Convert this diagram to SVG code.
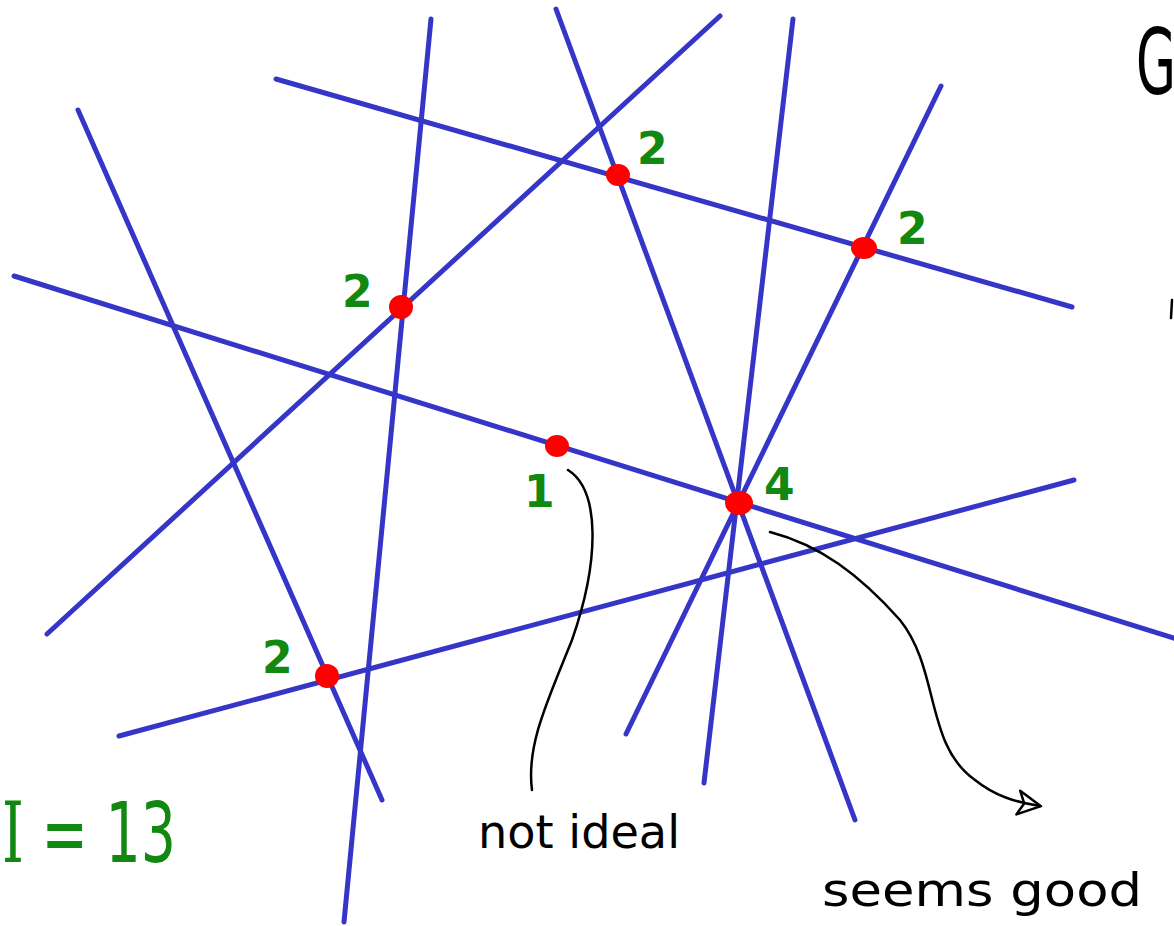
<svg xmlns="http://www.w3.org/2000/svg" width="1174" height="926" viewBox="0 0 1174 926">
<style>
.ln{stroke:#3535c8;stroke-width:5;stroke-linecap:round;fill:none}
.pt{fill:#ff0000}
.num{fill:#118811;font-family:"DejaVu Sans",sans-serif;font-weight:bold;font-size:44px}
.ink{stroke:#000;stroke-width:2.5;fill:none;stroke-linecap:round;stroke-linejoin:round}
.hw{fill:#000;font-family:"DejaVu Sans",sans-serif;font-weight:normal}
</style>
<defs>
<marker id="ah" viewBox="0 0 30 30" refX="26" refY="15" markerWidth="30" markerHeight="30" markerUnits="userSpaceOnUse" orient="auto">
<path d="M4,3 L27,15 L4,27 L10,15 Z" fill="none" stroke="#000" stroke-width="2.5" stroke-linejoin="round"/>
</marker>
</defs>
<rect width="1174" height="926" fill="#fff"/>
<g id="connectors">
<line class="ln" x1="276" y1="79" x2="1072" y2="307"/>
<line class="ln" x1="14" y1="276" x2="1180" y2="640"/>
<line class="ln" x1="78" y1="110" x2="382" y2="800"/>
<line class="ln" x1="431" y1="19" x2="344" y2="922"/>
<line class="ln" x1="720" y1="16" x2="47" y2="634"/>
<line class="ln" x1="556" y1="9" x2="855" y2="820"/>
<line class="ln" x1="793" y1="19" x2="704" y2="783"/>
<line class="ln" x1="941" y1="86" x2="626" y2="734"/>
<line class="ln" x1="119" y1="736" x2="1074" y2="480"/>
<path class="ink" d="M568,470 C600,490 600,560 572,640 C548,700 526,745 532,790"/>
<path class="ink" d="M770,532 C820,545 860,575 900,620 C940,670 925,745 975,780 C995,796 1015,802 1040,806" marker-end="url(#ah)"/>
</g>
<g id="points">
<ellipse class="pt" cx="618" cy="175" rx="12" ry="11"/>
<ellipse class="pt" cx="864" cy="248" rx="13" ry="11"/>
<ellipse class="pt" cx="401" cy="307" rx="12" ry="12"/>
<ellipse class="pt" cx="557" cy="446" rx="12" ry="11"/>
<ellipse class="pt" cx="739" cy="503" rx="14" ry="12"/>
<ellipse class="pt" cx="327" cy="676" rx="12" ry="12"/>
</g>
<g id="labels">
<text class="num" x="637" y="164">2</text>
<text class="num" x="897" y="244">2</text>
<text class="num" x="342" y="307">2</text>
<text class="num" x="524" y="507">1</text>
<text class="num" x="764" y="500">4</text>
<text class="num" x="262" y="673">2</text>
<text x="2" y="862" fill="#118811" font-family="DejaVu Sans, sans-serif" font-size="84" textLength="174" lengthAdjust="spacingAndGlyphs"><tspan font-family="DejaVu Serif, serif">I</tspan> = 13</text>
<text class="hw" x="478" y="848" font-size="46" textLength="202" lengthAdjust="spacingAndGlyphs">not ideal</text>
<text class="hw" x="822" y="906" font-size="46" textLength="320" lengthAdjust="spacingAndGlyphs">seems good</text>
<text x="1136" y="94" fill="#000" font-family="DejaVu Sans, sans-serif" font-size="90" textLength="40" lengthAdjust="spacingAndGlyphs">G</text>
<path class="ink" d="M1172,300 L1171,318" stroke-width="4"/>
</g>
</svg>
